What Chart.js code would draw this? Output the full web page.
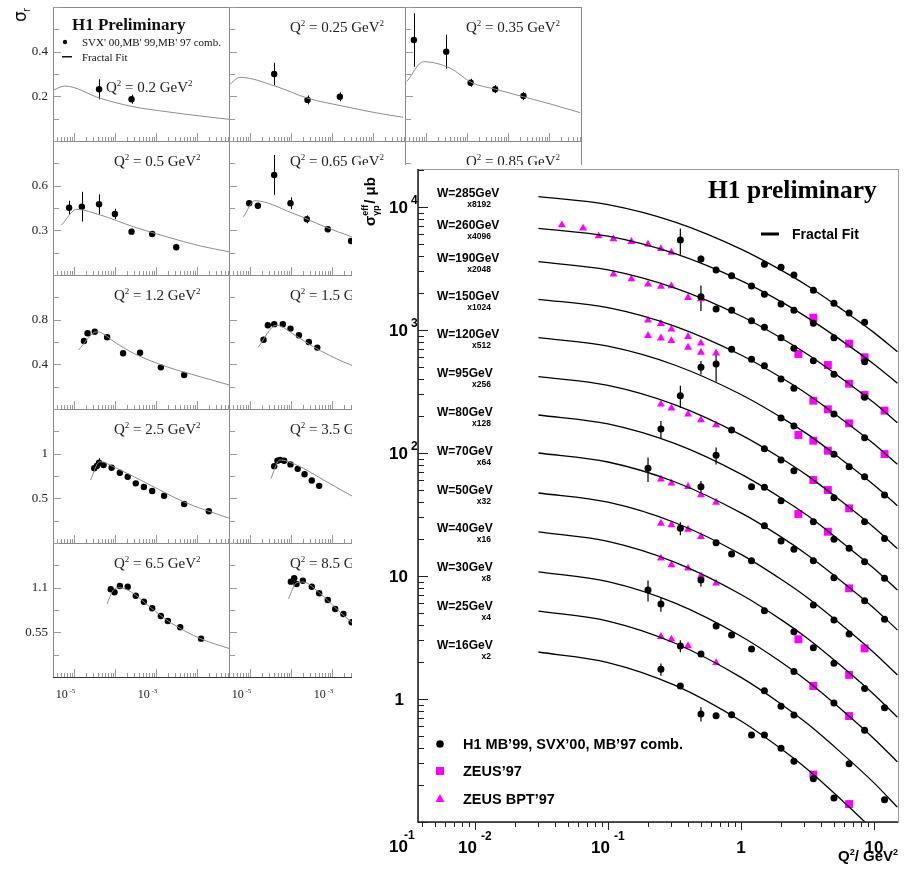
<!DOCTYPE html>
<html lang="en">
<head>
<meta charset="UTF-8">
<title>Fractal fit - H1 sigma_r and effective gamma-p cross section</title>
<script src="https://cdn.jsdelivr.net/npm/chart.js"></script>
<style>
  body { margin: 0; background: #fff; width: 911px; height: 869px; overflow: hidden; position: relative; }
  canvas { position: absolute; }
  #bigChart { left: 352px; top: 145px; z-index: 5; }
</style>
</head>
<body>
<canvas id="bigChart" width="559" height="724" style="width:559px;height:724px"></canvas>
<script>
// ---------- small panels: sigma_r vs x ----------
const rowMax = [0.6, 0.9, 1.2, 1.5, 1.65]
const rowLabels = [['0.2', '0.4'], ['0.3', '0.6'], ['0.4', '0.8'], ['0.5', '1'], ['0.55', '1.1']]
const rowTickStep = [0.1, 0.15, 0.2, 0.25, 0.275]

const p02 = { q2: '0.2', col: 0, row: 0,
  fitX: [3.2e-6, 6.2e-6, 4.5e-5, 2.8e-4, 1.9e-3, 1.23e-2, 6.3e-2],
  fitY: [0.228, 0.246, 0.191, 0.154, 0.131, 0.112, 0.097],
  x: [4.2e-5, 2.6e-4], y: [0.2315, 0.187], err: [0.045, 0.02] }
const p025 = { q2: '0.25', col: 1, row: 0,
  fitX: [3.16e-6, 5.9e-6, 4.2e-5, 2.7e-4, 1.8e-3, 1.15e-2, 5.6e-2],
  fitY: [0.251, 0.285, 0.246, 0.191, 0.157, 0.127, 0.106],
  x: [4.0e-5, 2.6e-4, 1.6e-3], y: [0.30, 0.184, 0.198], err: [0.05, 0.02, 0.02] }
const p035 = { q2: '0.35', col: 2, row: 0,
  fitX: [3.5e-6, 8.9e-6, 4.0e-5, 1.35e-4, 5.0e-4, 2.45e-3, 1.1e-2, 5.9e-2],
  fitY: [0.266, 0.355, 0.326, 0.261, 0.232, 0.198, 0.166, 0.127],
  x: [5.2e-6, 3.2e-5, 1.26e-4, 5.0e-4, 2.45e-3], y: [0.452, 0.40, 0.261, 0.232, 0.2015],
  err: [0.12, 0.076, 0.018, 0.018, 0.018] }
const p05 = { q2: '0.5', col: 0, row: 1,
  fitX: [5.1e-6, 1.2e-5, 4.5e-5, 2.9e-4, 1.86e-3, 1.23e-2, 6.3e-2],
  fitY: [0.336, 0.441, 0.403, 0.324, 0.257, 0.195, 0.156],
  x: [7.8e-6, 1.6e-5, 4.2e-5, 1.02e-4, 2.6e-4, 8.3e-4, 3.2e-3],
  y: [0.452, 0.459, 0.475, 0.41, 0.291, 0.275, 0.186],
  err: [0.047, 0.1, 0.067, 0.035, 0.02, 0.02, 0.02] }
const p065 = { q2: '0.65', col: 1, row: 1,
  fitX: [7.1e-6, 1.35e-5, 1.07e-4, 6.9e-4, 3.1e-3, 5.5e-2],
  fitY: [0.391, 0.499, 0.418, 0.324, 0.257, 0.154],
  x: [9.8e-6, 1.6e-5, 4.0e-5, 1.0e-4, 2.5e-4, 8.1e-4, 3.0e-3],
  y: [0.482, 0.465, 0.672, 0.482, 0.374, 0.307, 0.228],
  err: [0.02, 0.02, 0.134, 0.04, 0.027, 0.02, 0.02] }
const p085 = { q2: '0.85', col: 2, row: 1, fitX: [], fitY: [], x: [], y: [], err: [] }
const p12 = { q2: '1.2', col: 0, row: 2,
  fitX: [1.32e-5, 3.7e-5, 1.12e-4, 2.9e-4, 1.86e-3, 1.23e-2, 6.3e-2],
  fitY: [0.528, 0.692, 0.588, 0.499, 0.379, 0.289, 0.215],
  x: [1.8e-5, 2.2e-5, 3.3e-5, 6.6e-5, 1.62e-4, 4.2e-4, 1.35e-3, 5.0e-3],
  y: [0.609, 0.678, 0.692, 0.642, 0.499, 0.504, 0.373, 0.304],
  err: [0.02, 0.02, 0.02, 0.02, 0.02, 0.02, 0.02, 0.02] }
const p15 = { q2: '1.5', col: 1, row: 2,
  fitX: [1.6e-5, 4.5e-5, 1.3e-4, 3.5e-4, 2.0e-3, 1.3e-2, 6.0e-2],
  fitY: [0.55, 0.75, 0.66, 0.56, 0.42, 0.31, 0.23],
  x: [2.2e-5, 2.8e-5, 4.0e-5, 6.5e-5, 1.0e-4, 1.6e-4, 2.8e-4, 4.5e-4],
  y: [0.62, 0.75, 0.76, 0.76, 0.72, 0.66, 0.6, 0.55],
  err: [0.02, 0.02, 0.02, 0.02, 0.02, 0.02, 0.02, 0.02] }
const p25 = { q2: '2.5', col: 0, row: 3,
  fitX: [2.6e-5, 4.3e-5, 1.12e-4, 7.4e-4, 4.8e-3, 6.3e-2],
  fitY: [0.705, 0.910, 0.836, 0.649, 0.462, 0.276],
  x: [3.2e-5, 3.7e-5, 4.2e-5, 5.4e-5, 8.5e-5, 1.35e-4, 2.1e-4, 3.3e-4, 5.2e-4, 8.3e-4, 1.62e-3, 5.0e-3, 2.0e-2],
  y: [0.836, 0.862, 0.899, 0.873, 0.843, 0.787, 0.742, 0.668, 0.627, 0.582, 0.529, 0.437, 0.355],
  err: [0.02, 0.02, 0.05, 0.02, 0.02, 0.02, 0.02, 0.02, 0.02, 0.02, 0.02, 0.02, 0.02] }
const p35 = { q2: '3.5', col: 1, row: 3,
  fitX: [3.3e-5, 5.5e-5, 1.3e-4, 8.0e-4, 5.0e-3, 6.0e-2],
  fitY: [0.72, 0.93, 0.88, 0.68, 0.48, 0.29],
  x: [4.0e-5, 4.8e-5, 5.6e-5, 7.0e-5, 1.0e-4, 1.5e-4, 2.2e-4, 3.3e-4, 5.0e-4],
  y: [0.86, 0.92, 0.93, 0.92, 0.88, 0.83, 0.77, 0.70, 0.64],
  err: [0.02, 0.02, 0.02, 0.02, 0.02, 0.02, 0.02, 0.02, 0.02] }
const p65 = { q2: '6.5', col: 0, row: 4,
  fitX: [6.6e-5, 9.0e-5, 1.3e-4, 2.5e-4, 7.4e-4, 2.5e-3, 1.29e-2, 6.3e-2],
  fitY: [0.90, 1.06, 1.10, 1.05, 0.86, 0.66, 0.47, 0.35],
  x: [8.1e-5, 1.0e-4, 1.35e-4, 2.1e-4, 3.3e-4, 5.2e-4, 8.3e-4, 1.35e-3, 2.0e-3, 4.0e-3, 1.29e-2],
  y: [1.08, 1.043, 1.121, 1.112, 1.001, 0.927, 0.846, 0.751, 0.690, 0.612, 0.472],
  err: [0.02, 0.02, 0.02, 0.02, 0.02, 0.02, 0.02, 0.02, 0.02, 0.02, 0.02] }
const p85 = { q2: '8.5', col: 1, row: 4,
  fitX: [8.9e-5, 1.4e-4, 2.0e-4, 5.0e-4, 1.6e-3, 5.0e-3, 5.5e-2],
  fitY: [0.965, 1.16, 1.17, 1.04, 0.80, 0.60, 0.38],
  x: [1.02e-4, 1.23e-4, 1.4e-4, 2.0e-4, 3.3e-4, 5.0e-4, 8.1e-4, 1.23e-3, 1.95e-3, 3.1e-3],
  y: [1.174, 1.216, 1.145, 1.186, 1.112, 1.031, 0.948, 0.837, 0.776, 0.674],
  err: [0.02, 0.02, 0.02, 0.02, 0.02, 0.02, 0.02, 0.02, 0.02, 0.02] }

const panels = [p02, p025, p035, p05, p065, p085, p12, p15, p25, p35, p65, p85]

// text with raised (1) or lowered (-1) parts, baseline at y
function richText(ctx, parts, x, y, size, family, weight, align) {
  ctx.save()
  ctx.textBaseline = 'alphabetic'
  ctx.textAlign = 'left'
  const fonts = parts.map(p => `${weight} ${p[1] ? Math.round(size * 0.62) : size}px ${family}`)
  let w = 0
  parts.forEach((p, i) => { ctx.font = fonts[i]; w += ctx.measureText(p[0]).width })
  let cx = align === 'right' ? x - w : align === 'center' ? x - w / 2 : x
  parts.forEach((p, i) => {
    ctx.font = fonts[i]
    const dy = p[1] === 1 ? -size * 0.42 : p[1] === -1 ? size * 0.28 : 0
    ctx.fillText(p[0], cx, y + dy)
    cx += ctx.measureText(p[0]).width
  })
  ctx.restore()
  return w
}

const SERIF = '"Liberation Serif", "Times New Roman", serif'

const panelFrame = {
  id: 'panelFrame',
  beforeDatasetsDraw(chart) {
    const { ctx, scales: { x, y } } = chart
    const p = chart.options.plugins.panelFrame.panel
    ctx.save()
    ctx.strokeStyle = '#000'
    ctx.lineWidth = 1
    ctx.beginPath()
    p.err.forEach((e, i) => {
      const px = Math.round(x.getPixelForValue(p.x[i])) + 0.5
      ctx.moveTo(px, y.getPixelForValue(p.y[i] - e))
      ctx.lineTo(px, y.getPixelForValue(p.y[i] + e))
    })
    ctx.stroke()
    ctx.restore()
  },
  afterDraw(chart) {
    const { ctx, chartArea: a, scales: { x, y } } = chart
    const p = chart.options.plugins.panelFrame.panel
    ctx.save()
    ctx.lineWidth = 1
    ctx.strokeStyle = '#8a8a8a'
    ctx.strokeRect(a.left + 0.5, a.top + 0.5, a.right - a.left, a.bottom - a.top)
    ctx.strokeStyle = '#333'
    ctx.beginPath()
    ctx.moveTo(a.left, a.bottom + 0.5); ctx.lineTo(a.right, a.bottom + 0.5)
    ctx.stroke()
    // log ticks along x
    ctx.strokeStyle = '#999'
    ctx.beginPath()
    for (let d = -6; d <= -1; d++) {
      for (let k = 1; k <= 9; k++) {
        const v = k * Math.pow(10, d)
        if (v < x.min || v > x.max) continue
        const px = Math.round(x.getPixelForValue(v)) + 0.5
        ctx.moveTo(px, a.bottom)
        ctx.lineTo(px, a.bottom - (k === 1 ? 8 : 4))
      }
    }
    // linear ticks along y
    const st = rowTickStep[p.row]
    for (let i = 1; i * st < rowMax[p.row] + 1e-9; i++) {
      const py = Math.round(y.getPixelForValue(i * st)) + 0.5
      ctx.moveTo(a.left, py)
      ctx.lineTo(a.left + (i % 2 === 0 ? 8 : 6), py)
    }
    ctx.stroke()
    ctx.fillStyle = '#222'
    if (p.col === 0) {
      ctx.font = '13px ' + SERIF
      ctx.textAlign = 'right'
      ctx.textBaseline = 'middle'
      rowLabels[p.row].forEach((t, i) => {
        ctx.fillText(t, a.left - 5, y.getPixelForValue(st * 2 * (i + 1)))
      })
    }
    if (p.row === 4) {
      [-5, -3].forEach(d => {
        const px = x.getPixelForValue(Math.pow(10, d))
        richText(ctx, [['10', 0], [' ' + d, 1]], px - 8, a.bottom + 21, 12, SERIF, 'normal', 'center')
      })
    }
    const first = p.col === 0 && p.row === 0
    richText(ctx, [['Q', 0], ['2', 1], [' = ' + p.q2 + ' GeV', 0], ['2', 1]],
      first ? a.left + 53 : a.left + 61, first ? 93 : a.top + 25, 15, SERIF, 'normal', 'left')
    ctx.restore()
  }
}

function makePanel(p) {
  const left = 53 + 176 * p.col
  const bottom = 141 + 134 * p.row
  const top = bottom - 134
  const padL = 50, padT = 8, padR = 4, padB = 30
  const cv = document.createElement('canvas')
  cv.width = 176 + padL + padR
  cv.height = 134 + padT + padB
  cv.style.left = (left - padL) + 'px'
  cv.style.top = (top - padT) + 'px'
  cv.style.width = cv.width + 'px'
  cv.style.height = cv.height + 'px'
  document.body.appendChild(cv)
  new Chart(cv, {
    type: 'scatter',
    data: {
      datasets: [{
        type: 'line',
        data: p.fitX.map((v, i) => ({ x: v, y: p.fitY[i] })),
        borderColor: '#8c8c8c',
        borderWidth: 1,
        pointRadius: 0,
        cubicInterpolationMode: 'monotone'
      }, {
        data: p.x.map((v, i) => ({ x: v, y: p.y[i] })),
        backgroundColor: '#000',
        borderWidth: 0,
        pointRadius: 3.2
      }]
    },
    options: {
      responsive: false,
      animation: false,
      events: [],
      layout: { padding: { left: padL, top: padT, right: padR, bottom: padB } },
      plugins: { legend: { display: false }, tooltip: { enabled: false }, panelFrame: { panel: p } },
      scales: {
        x: { type: 'logarithmic', min: 3.16e-6, max: 0.062, display: false },
        y: { min: 0, max: rowMax[p.row], display: false }
      }
    },
    plugins: [panelFrame]
  })
}

panels.forEach(makePanel)

// header of the first panel and the sigma_r axis title
const hdr = document.createElement('canvas')
hdr.width = 230; hdr.height = 70
hdr.style.left = '0px'; hdr.style.top = '0px'
document.body.appendChild(hdr)
{
  const c = hdr.getContext('2d')
  c.fillStyle = '#111'
  c.font = 'bold 17px ' + SERIF
  c.fillText('H1 Preliminary', 72, 30)
  c.font = '11px ' + SERIF
  c.fillText("SVX' 00,MB' 99,MB' 97 comb.", 82, 46)
  c.fillText('Fractal Fit', 82, 61)
  c.beginPath(); c.arc(65, 42, 2.2, 0, Math.PI * 2); c.fill()
  c.fillRect(62, 56, 10, 1.5)
  c.save()
  c.translate(26, 22)
  c.rotate(-Math.PI / 2)
  c.font = '17px "DejaVu Sans", sans-serif'
  c.fillText('σ', 0, 0)
  c.font = '10px "DejaVu Sans", sans-serif'
  c.fillText('r', 10, 4)
  c.restore()
}

// ---------- big panel: sigma_gp^eff vs Q2 for several W ----------
const wBins = [285, 260, 190, 150, 120, 95, 80, 70, 50, 40, 30, 25, 16]
const wScale = [8192, 4096, 2048, 1024, 512, 256, 128, 64, 32, 16, 8, 4, 2]
const wLabelY = [48, 80, 113, 151, 189, 228, 267, 306, 345, 383, 422, 461, 500]

// fractal fit at these Q2 points (values include the x2^n factor)
const fitQ2 = [0.03, 0.1, 0.32, 1, 2, 3.2, 5.6, 10, 15]
const fit285 = [12130, 10460, 7540, 4550, 3070, 2270, 1500, 952, 666]
const fit260 = [6710, 5790, 4170, 2520, 1700, 1250, 831, 527, 369]
const fit190 = [3590, 3080, 2190, 1300, 861, 629, 410, 256, 176]
const fit150 = [1776, 1518, 1071, 626, 411, 298, 192, 118.5, 81]
const fit120 = [866, 738, 517, 299, 195, 141, 89.9, 54.9, 37.3]
const fit95 = [417, 354, 246, 140.5, 90.7, 64.9, 41.1, 24.8, 16.7]
const fit80 = [203.7, 172.3, 119, 67.3, 43.1, 30.7, 19.2, 11.5, 7.69]
const fit70 = [100, 84.5, 58.1, 32.6, 20.8, 14.7, 9.2, 5.47, 3.64]
const fit50 = [47.3, 39.8, 27.1, 15.0, 9.41, 6.6, 4.07, 2.38, 1.57]
const fit40 = [22.8, 19.1, 12.9, 7.07, 4.42, 3.08, 1.88, 1.09, 0.71]
const fit30 = [10.8, 9.0, 6.02, 3.24, 2.0, 1.38, 0.833, 0.476, 0.308]
const fit25 = [5.19, 4.30, 2.84, 1.50, 0.912, 0.622, 0.370, 0.208, 0.132]
const fit16 = [2.41, 1.98, 1.29, 0.663, 0.394, 0.265, 0.154, 0.0845, 0.0528]
const fitCurves = [fit285, fit260, fit190, fit150, fit120, fit95, fit80, fit70, fit50, fit40, fit30, fit25, fit16]

// H1 points: [Q2, sigma x factor, error]
const h1_285 = [[1.5, 3420], [2, 3233], [2.5, 2800], [3.5, 2102], [5, 1648], [6.5, 1375], [8.5, 1155]]
const h1_260 = [[0.35, 5392, 1300], [0.5, 3777, 250], [0.65, 3074], [0.85, 2764], [1.2, 2279], [1.5, 1951],
  [2, 1627], [2.5, 1446], [3.5, 1133], [5, 866], [8.5, 552]]
const h1_190 = [[0.5, 1865, 440], [0.65, 1482], [0.85, 1450], [1.2, 1190], [1.5, 1052], [2, 866],
  [2.5, 710], [3.5, 563], [5, 436], [8.5, 284]]
const h1_150 = [[0.85, 697], [1.2, 578], [1.5, 512], [2, 400], [2.5, 336], [5, 207.5], [8.5, 133.2]]
const h1_120 = [[0.5, 497, 62], [0.65, 529, 150], [2, 192.5], [2.5, 165.8], [5, 97.6], [6.5, 77.4], [8.5, 64.2], [12, 45.6]]
const h1_95 = [[0.35, 292, 60], [0.85, 153.8], [1.5, 108.4], [2, 87.7], [2.5, 71.8], [5, 43.3], [8.5, 27.6], [12, 20.2]]
const h1_80 = [[0.25, 156.7, 25], [0.65, 95.8, 15], [1.2, 53.2], [1.5, 52.6], [2, 40.9], [3.5, 27.6], [5, 19.9],
  [6.5, 16.8], [8.5, 13.07], [12, 9.58]]
const h1_70 = [[0.2, 75.1, 17], [0.5, 53.2, 6], [1.5, 25.6], [2, 19.25], [2.5, 16.5], [3.5, 13.3], [5, 9.69], [8.5, 6.3], [12, 4.44]]
const h1_50 = [[0.35, 24.4, 3], [0.65, 18.65], [0.85, 15.1], [1.2, 13.3], [3.5, 5.81], [5, 4.39], [6.5, 3.38]]
const h1_40 = [[0.5, 9.28, 1.1], [1.5, 5.22], [2.5, 3.53], [3.5, 2.61], [5, 1.95], [8.5, 1.22], [12, 0.85]]
const h1_30 = [[0.2, 7.7, 1.5], [0.25, 5.92, 0.8], [0.65, 3.92], [0.85, 3.31], [1.2, 2.55], [2.5, 1.676], [5, 0.926], [8.5, 0.556]]
const h1_25 = [[0.35, 2.7, 0.3], [0.5, 2.32], [1.5, 1.168], [2, 0.872], [2.5, 0.741], [6.5, 0.298], [12, 0.1515]]
const h1_16 = [[0.25, 1.743, 0.2], [0.35, 1.276], [0.5, 0.755, 0.1], [0.65, 0.731], [0.85, 0.745], [1.2, 0.51],
  [1.5, 0.51], [2, 0.397], [2.5, 0.3115], [3.5, 0.2245], [5, 0.1567]]
const h1Sets = [h1_285, h1_260, h1_190, h1_150, h1_120, h1_95, h1_80, h1_70, h1_50, h1_40, h1_30, h1_25, h1_16]

// ZEUS'97: [Q2, sigma x factor]
const zeus97 = [[3.5, 1259], [6.5, 774], [8.5, 600],
  [2.7, 638], [4.5, 519], [6.5, 366], [8.5, 296], [12, 221],
  [3.5, 266.2], [4.5, 226.6], [6.5, 174.3], [12, 98.1],
  [2.7, 140.1], [3.5, 125.9], [4.5, 104.4],
  [3.5, 60.3], [4.5, 50], [6.5, 35.5],
  [2.7, 31.9], [4.5, 22.9],
  [6.5, 7.94], [8.5, 2.58], [2.7, 3.06], [6.5, 1.57],
  [3.5, 1.276], [6.5, 0.727], [3.5, 0.2428], [6.5, 0.14]]
// ZEUS BPT'97: [Q2, sigma x factor]
const zeusBpt = [[0.045, 7140], [0.065, 6711], [0.085, 5810], [0.11, 5494], [0.15, 5224], [0.2, 4974], [0.25, 4573], [0.3, 4281],
  [0.11, 2837], [0.15, 2597], [0.2, 2352], [0.25, 2257], [0.3, 2279], [0.4, 1830], [0.5, 1786],
  [0.2, 1199], [0.25, 1125], [0.3, 1013], [0.4, 882], [0.5, 780],
  [0.2, 899], [0.25, 859], [0.3, 818], [0.4, 722], [0.5, 658], [0.65, 649],
  [0.25, 248.8], [0.3, 230.9], [0.4, 206.4], [0.5, 185.5], [0.65, 168.9],
  [0.25, 61.1], [0.3, 56.7], [0.4, 53.2], [0.5, 45.6], [0.65, 39.7],
  [0.25, 26.8], [0.3, 26.0], [0.4, 23.96], [0.5, 20.9],
  [0.25, 13.93], [0.3, 12.29], [0.4, 11.55], [0.5, 10.0], [0.65, 8.72],
  [0.25, 3.21], [0.3, 3.06], [0.4, 2.70], [0.65, 1.97]]

const MAGENTA = '#ff00ff'
const ARIAL = '"Liberation Sans", Arial, sans-serif'

const datasets = fitCurves.map(c => ({
  type: 'line',
  data: fitQ2.map((q, i) => ({ x: q, y: c[i] })),
  borderColor: '#000',
  borderWidth: 1.3,
  pointRadius: 0,
  cubicInterpolationMode: 'monotone'
}))
const h1All = [].concat(...h1Sets)
datasets.push({
  data: h1All.map(p => ({ x: p[0], y: p[1] })),
  errs: h1All.map(p => p[2] || 0),
  backgroundColor: '#000', borderWidth: 0, pointRadius: 3.5
})
datasets.push({
  data: zeus97.map(p => ({ x: p[0], y: p[1] })),
  pointStyle: 'rect', backgroundColor: MAGENTA, borderWidth: 0, pointRadius: 5.6
})
datasets.push({
  data: zeusBpt.map(p => ({ x: p[0], y: p[1] })),
  pointStyle: 'triangle', backgroundColor: MAGENTA, borderWidth: 0, pointRadius: 4.6
})

const bigFrame = {
  id: 'bigFrame',
  beforeDraw(chart) {
    const ctx = chart.ctx
    ctx.save()
    ctx.fillStyle = '#fff'
    ctx.fillRect(0, 20, chart.width, chart.height - 20)
    ctx.restore()
  },
  beforeDatasetsDraw(chart) {
    const { ctx, scales: { x, y } } = chart
    ctx.save()
    ctx.strokeStyle = '#000'
    ctx.lineWidth = 1.2
    ctx.beginPath()
    chart.data.datasets.forEach(ds => {
      if (!ds.errs) return
      ds.errs.forEach((e, i) => {
        if (!e) return
        const px = x.getPixelForValue(ds.data[i].x)
        ctx.moveTo(px, y.getPixelForValue(ds.data[i].y - e))
        ctx.lineTo(px, y.getPixelForValue(ds.data[i].y + e))
      })
    })
    ctx.stroke()
    ctx.restore()
  },
  afterDraw(chart) {
    const { ctx, chartArea: a, scales: { x, y } } = chart
    ctx.save()
    ctx.lineWidth = 1
    ctx.strokeStyle = '#999'
    ctx.strokeRect(a.left + 0.5, a.top + 0.5, a.right - a.left, a.bottom - a.top)
    ctx.strokeStyle = '#222'
    ctx.lineWidth = 1.5
    ctx.beginPath()
    ctx.moveTo(a.left, a.top); ctx.lineTo(a.left, a.bottom); ctx.lineTo(a.right, a.bottom)
    ctx.stroke()
    ctx.lineWidth = 1
    ctx.beginPath()
    for (let d = -3; d <= 4; d++) {
      for (let k = 1; k <= 9; k++) {
        const v = k * Math.pow(10, d)
        if (v >= x.min && v <= x.max) {
          const px = Math.round(x.getPixelForValue(v)) + 0.5
          ctx.moveTo(px, a.bottom)
          ctx.lineTo(px, a.bottom + (k === 1 ? 8 : 5))
        }
        if (v >= y.min && v <= y.max) {
          const py = Math.round(y.getPixelForValue(v)) + 0.5
          ctx.moveTo(a.left, py)
          ctx.lineTo(a.left + (k === 1 ? 10 : 6), py)
        }
      }
    }
    ctx.stroke()

    ctx.fillStyle = '#000'
    // y tick labels
    ;[[4, '4'], [3, '3'], [2, '2']].forEach(([d, e]) => {
      const py = y.getPixelForValue(Math.pow(10, d))
      richText(ctx, [['10', 0]], 56, py + 6, 17, ARIAL, 'bold', 'right')
      richText(ctx, [[e, 0]], 59, py - 3, 12, ARIAL, 'bold', 'left')
    })
    richText(ctx, [['10', 0]], 56, y.getPixelForValue(10) + 6, 17, ARIAL, 'bold', 'right')
    richText(ctx, [['1', 0]], 52, y.getPixelForValue(1) + 6, 17, ARIAL, 'bold', 'right')
    richText(ctx, [['10', 0]], 56, a.bottom + 30, 17, ARIAL, 'bold', 'right')
    richText(ctx, [['-1', 0]], 52, a.bottom + 17, 12, ARIAL, 'bold', 'left')
    // x tick labels
    ;[[-2, '-2'], [-1, '-1']].forEach(([d, e]) => {
      const px = x.getPixelForValue(Math.pow(10, d))
      richText(ctx, [['10', 0]], px - 17, a.bottom + 31, 17, ARIAL, 'bold', 'left')
      richText(ctx, [[e, 0]], px + 6, a.bottom + 18, 12, ARIAL, 'bold', 'left')
    })
    richText(ctx, [['1', 0]], x.getPixelForValue(1), a.bottom + 31, 17, ARIAL, 'bold', 'center')
    richText(ctx, [['10', 0]], x.getPixelForValue(10), a.bottom + 31, 17, ARIAL, 'bold', 'center')
    richText(ctx, [['Q', 0], ['2', 1], ['/ GeV', 0], ['2', 1]], a.right, a.bottom + 39, 15, ARIAL, 'bold', 'right')

    // y axis title: sigma with stacked sub/superscript
    ctx.save()
    ctx.translate(23, 81)
    ctx.rotate(-Math.PI / 2)
    ctx.textBaseline = 'alphabetic'
    ctx.font = `bold 15px ${ARIAL}`
    ctx.fillText('σ', 0, 0)
    let tx = ctx.measureText('σ').width
    ctx.font = `bold 9px ${ARIAL}`
    ctx.fillText('γp', tx, 4)
    ctx.fillText('eff', tx, -7)
    tx += Math.max(ctx.measureText('γp').width, ctx.measureText('eff').width)
    ctx.font = `bold 15px ${ARIAL}`
    ctx.fillText('/ μb', tx + 1, 0)
    ctx.restore()

    // title and fit legend
    ctx.font = 'bold 25.5px ' + SERIF
    ctx.textBaseline = 'alphabetic'
    ctx.fillText('H1 preliminary', 356, 53)
    ctx.fillRect(409, 87.5, 18, 3)
    ctx.font = `bold 14px ${ARIAL}`
    ctx.fillText('Fractal Fit', 440, 94)

    // W labels with their factors
    wBins.forEach((w, i) => {
      ctx.font = `bold 12px ${ARIAL}`
      ctx.textAlign = 'left'
      ctx.fillText(`W=${w}GeV`, 85, wLabelY[i] + 4)
      ctx.font = `bold 8.5px ${ARIAL}`
      ctx.textAlign = 'right'
      ctx.fillText(`x${wScale[i]}`, 139, wLabelY[i] + 14)
    })
    ctx.textAlign = 'left'

    // marker legend
    ctx.font = `bold 14.5px ${ARIAL}`
    ctx.beginPath(); ctx.arc(88, 599, 3.8, 0, Math.PI * 2); ctx.fill()
    ctx.fillText('H1 MB’99, SVX’00, MB’97 comb.', 111, 604)
    ctx.fillStyle = MAGENTA
    ctx.fillRect(84, 622, 8, 8)
    ctx.beginPath(); ctx.moveTo(88, 649); ctx.lineTo(92.5, 657); ctx.lineTo(83.5, 657); ctx.closePath(); ctx.fill()
    ctx.fillStyle = '#000'
    ctx.fillText('ZEUS’97', 111, 631)
    ctx.fillText('ZEUS BPT’97', 111, 659)
    ctx.restore()
  }
}

new Chart(document.getElementById('bigChart'), {
  type: 'scatter',
  data: { datasets },
  options: {
    responsive: false,
    animation: false,
    events: [],
    layout: { padding: { left: 66, top: 24, right: 13, bottom: 47 } },
    plugins: { legend: { display: false }, tooltip: { enabled: false } },
    scales: {
      x: { type: 'logarithmic', min: 0.00373, max: 15.15, display: false },
      y: { type: 'logarithmic', min: 0.1, max: 20370, display: false }
    }
  },
  plugins: [bigFrame]
})
</script>
</body>
</html>
